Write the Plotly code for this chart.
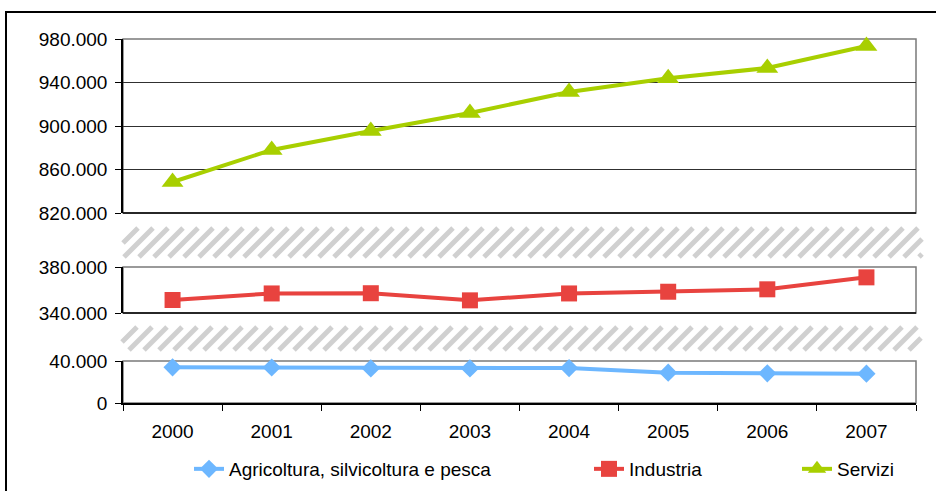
import plotly.graph_objects as go

years = ["2000", "2001", "2002", "2003", "2004", "2005", "2006", "2007"]
agricoltura = [34000, 33800, 32900, 32900, 33300, 28900, 28300, 27900]
industria = [351300, 357000, 357200, 351000, 357000, 358500, 360600, 371000]
servizi = [848500, 878000, 895400, 912000, 931300, 944000, 953300, 973600]

names = ["Agricoltura, silvicoltura e pesca", "Industria", "Servizi"]
colors = ["#6DB7FF", "#E8433F", "#A8CF00"]

W, H = 936, 491
L, R, T, B = 123, 916, 39, 403
PW, PH = R - L, B - T


def px_x(p):
    return (p - L) / PW


def px_y(p):
    return (B - p) / PH


FONT = "Liberation Sans, Arial, sans-serif"
FS = 19

fig = go.Figure()
fig.add_trace(go.Scatter(x=years, y=agricoltura, name=names[0], yaxis="y", mode="lines+markers",
                         line=dict(color=colors[0], width=4),
                         marker=dict(symbol="diamond", size=14, color=colors[0]),
                         cliponaxis=False, legend="legend", showlegend=True))
fig.add_trace(go.Scatter(x=years, y=industria, name=names[1], yaxis="y2", mode="lines+markers",
                         line=dict(color=colors[1], width=4),
                         marker=dict(symbol="square", size=16, color=colors[1]),
                         cliponaxis=False, legend="legend2", showlegend=True))
fig.add_trace(go.Scatter(x=years, y=servizi, name=names[2], yaxis="y3", mode="lines+markers",
                         line=dict(color=colors[2], width=4),
                         marker=dict(symbol="triangle-up", size=19, color=colors[2]),
                         cliponaxis=False, legend="legend3", showlegend=True))

yax_common = dict(showline=True, linecolor="black", linewidth=1.5, ticks="outside", ticklen=6,
                  tickcolor="black", tickformat=",d", dtick=40000, showgrid=True,
                  gridcolor="#303030", gridwidth=1, zeroline=False, ticklabelstandoff=4,
                  tickfont=dict(family=FONT, size=FS, color="black"), anchor="x",
                  automargin=False)

doms = {
    "y": (px_y(403), px_y(361), [0, 40000]),
    "y2": (px_y(313), px_y(267), [340000, 380000]),
    "y3": (px_y(213), px_y(39), [820000, 980000]),
}

shapes = []
for key, (d0, d1, rng) in doms.items():
    axname = "yaxis" if key == "y" else "yaxis" + key[1:]
    fig.layout[axname] = dict(domain=[d0, d1], range=rng, tick0=rng[0], **yax_common)
    shapes.append(dict(type="rect", xref="paper", yref="paper", x0=0, x1=1, y0=d0, y1=d1,
                       line=dict(color="#7a7a7a", width=1.5), layer="below"))
    if key != "y":
        shapes.append(dict(type="line", xref="paper", yref="paper", x0=0, x1=1, y0=d0, y1=d0,
                           line=dict(color="black", width=1.5)))

# hatched break bands
bands = [(123, 922, 228, 257), (122, 921, 327, 350)]
for (bx0, bx1, by0, by1) in bands:
    h = by1 - by0
    s = bx0 - h
    while s < bx1:
        xa, ya = s, by1
        xb, yb = s + h, by0
        if xa < bx0:
            ya = by1 - (bx0 - xa)
            xa = bx0
        if xb > bx1:
            yb = by0 + (xb - bx1)
            xb = bx1
        if xb > xa:
            shapes.append(dict(type="line", xref="paper", yref="paper",
                               x0=px_x(xa), y0=px_y(ya), x1=px_x(xb), y1=px_y(yb),
                               line=dict(color="#d0d0d0", width=5), layer="below"))
        s += 15

# outer frame
shapes.append(dict(type="rect", xref="paper", yref="paper", x0=px_x(6), x1=px_x(960),
                   y0=px_y(520), y1=px_y(12), line=dict(color="black", width=2), layer="below"))

legend_common = dict(orientation="h", yanchor="middle", y=px_y(469), xanchor="left",
                     bgcolor="rgba(0,0,0,0)", font=dict(family=FONT, size=FS, color="black"),
                     itemwidth=30)

fig.update_layout(
    width=W, height=H,
    margin=dict(l=L, r=W - R, t=T, b=H - B, autoexpand=False),
    paper_bgcolor="white", plot_bgcolor="white",
    showlegend=True,
    separators=",.",
    font=dict(family=FONT, size=FS, color="black"),
    xaxis=dict(type="category", range=[-0.5, 7.5], showline=True, linecolor="black", linewidth=1.5,
               ticks="outside", tickson="boundaries", ticklen=6, tickcolor="black",
               ticklabelstandoff=10, tickfont=dict(family=FONT, size=FS, color="black"),
               showgrid=False, zeroline=False, anchor="y", automargin=False),
    legend=dict(x=px_x(189), **legend_common),
    legend2=dict(x=px_x(589), **legend_common),
    legend3=dict(x=px_x(797), **legend_common),
    shapes=shapes,
)

fig.write_html("out.html", config={"displayModeBar": False},
               post_script="document.body.style.margin='0';")
